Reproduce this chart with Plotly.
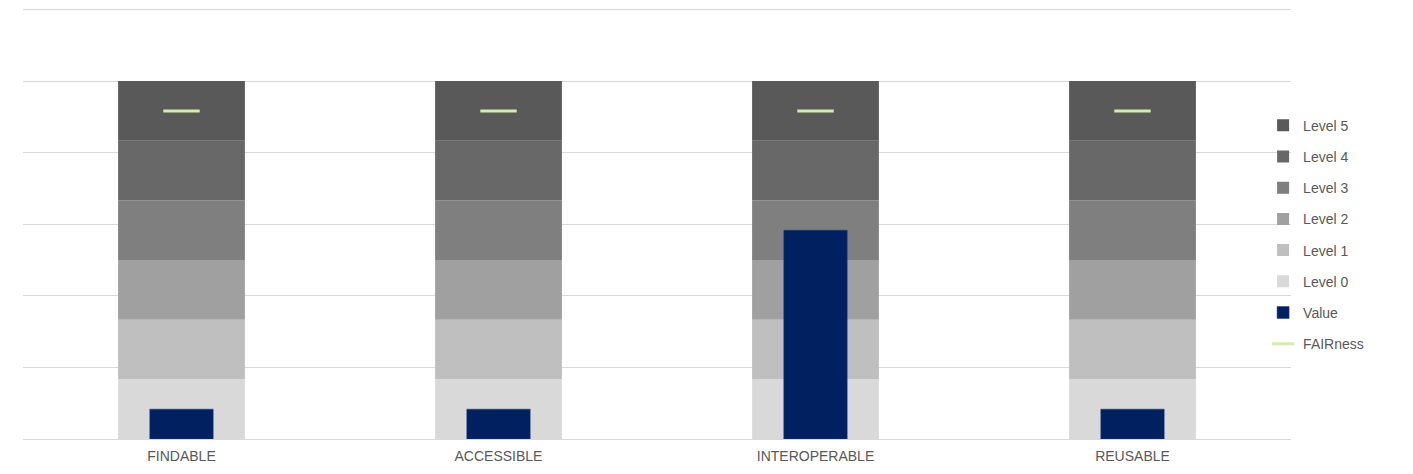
import plotly.graph_objects as go

# FAIR principle categories
categories = ["FINDABLE", "ACCESSIBLE", "INTEROPERABLE", "REUSABLE"]

# maturity levels (each band is one level high)
level_names = ["Level 0", "Level 1", "Level 2", "Level 3", "Level 4", "Level 5"]
level_heights = [1, 1, 1, 1, 1, 1]
level_colors = ["#d9d9d9", "#bfbfbf", "#a0a0a0", "#7f7f7f", "#686868", "#595959"]

# measured value and overall FAIRness score, in level units
values = [0.5, 0.5, 3.5, 0.5]
fairness = [5.5, 5.5, 5.5, 5.5]

fig = go.Figure()

base = 0
n_levels = len(level_names)
for i, (name, h, col) in enumerate(zip(level_names, level_heights, level_colors)):
    fig.add_trace(go.Bar(
        x=categories, y=[h] * len(categories), base=[base] * len(categories),
        name=name, marker=dict(color=col, line=dict(width=0)),
        width=0.4, legendrank=n_levels - i, legendgroup=name,
    ))
    base += h

fig.add_trace(go.Bar(
    x=categories, y=values, name="Value",
    marker=dict(color="#002060", line=dict(color="#1a3a80", width=0.5)),
    width=0.2, legendrank=7, legendgroup="Value",
))

fig.add_trace(go.Scatter(
    x=categories, y=fairness, name="FAIRness", mode="markers",
    marker=dict(symbol="line-ew", size=26, line=dict(color="#d4ecaf", width=3)),
    legendrank=8, legendgroup="FAIRness",
))

# page body has an 8px margin, so the figure is 16px smaller than the window
fig.update_layout(
    width=1397, height=458,
    barmode="overlay",
    plot_bgcolor="white", paper_bgcolor="white",
    margin=dict(l=15, r=114, t=0, b=27),
    font=dict(family="Liberation Sans, Arial, sans-serif", color="#595959", size=13),
    showlegend=True,
    legend=dict(
        x=0.978, xanchor="left", y=0.474, yanchor="middle",
        traceorder="grouped", tracegroupgap=10, itemwidth=30,
        bgcolor="rgba(0,0,0,0)",
        font=dict(size=14, color="#595959"),
    ),
    xaxis=dict(showgrid=False, showline=True, linecolor="#d9d9d9", linewidth=1,
               ticks="", ticklabelstandoff=4, automargin=False,
               tickfont=dict(size=14, color="#595959")),
    # top of range leaves room so the 7.2 gridline is not clipped at the edge
    yaxis=dict(range=[0, 7.225], dtick=1.2, showgrid=True, gridcolor="#d9d9d9",
               gridwidth=1, showticklabels=False, zeroline=False, showline=False),
)

fig.write_html("out.html")
